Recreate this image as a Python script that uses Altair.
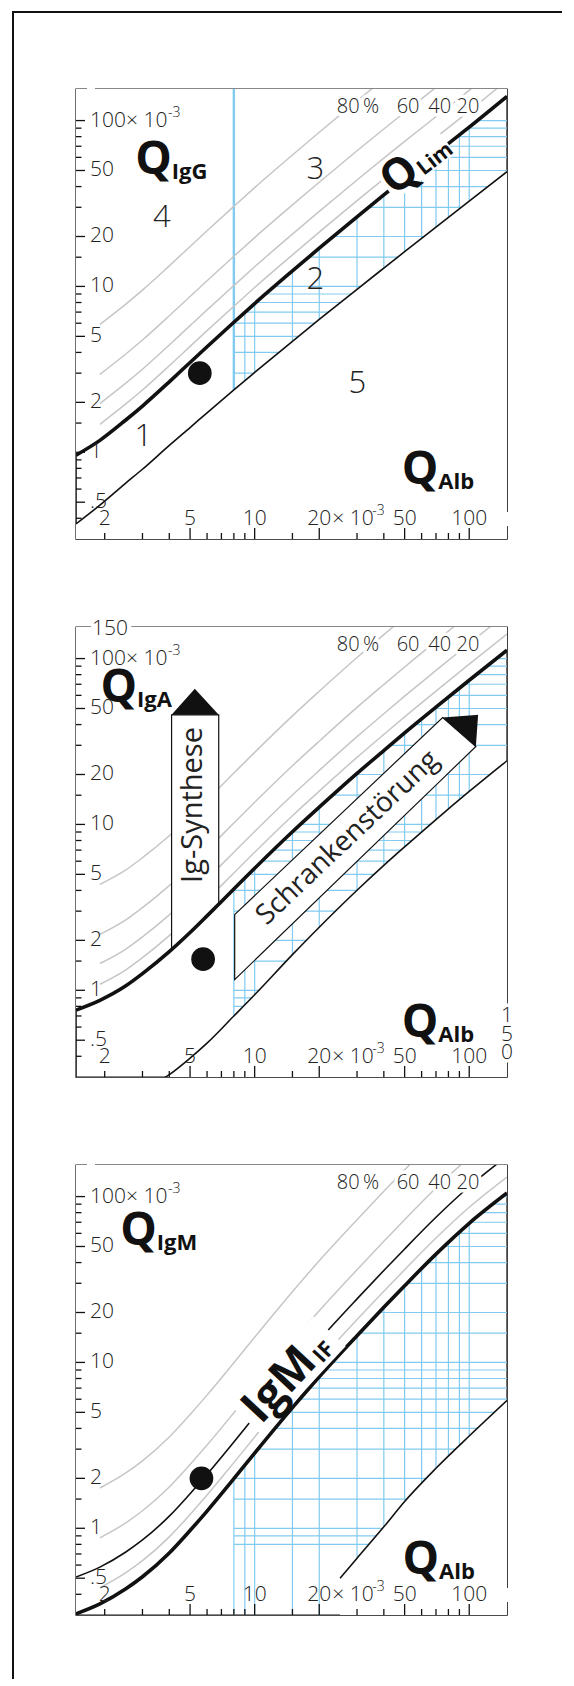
import altair as alt
import pandas as pd

# ---------------- values (all quotients in units of 10^-3) ----------------
CURVE_X = [1.47, 1.9, 2.5, 3, 4, 5, 6, 8, 10, 15, 20, 30, 40, 50, 70, 100, 150]

IGG_LIM = [0.96, 1.18, 1.56, 1.90, 2.66, 3.48, 4.33, 6.08, 7.88, 12.4, 17.0, 26.3, 35.6, 44.9, 63.4, 91.3, 140.0]
IGG_LOW = [0.37, 0.48, 0.65, 0.79, 1.10, 1.41, 1.73, 2.38, 3.03, 4.67, 6.32, 9.61, 12.9, 16.2, 22.8, 32.7, 49.2]

IGA_LIM = [0.76, 0.87, 1.06, 1.26, 1.71, 2.23, 2.81, 4.08, 5.44, 9.03, 12.7, 20.3, 27.9, 35.6, 50.9, 74.0, 112.5]
IGA_LOW_X = [3, 4, 5, 6, 8, 10, 15, 20, 30, 40, 50, 70, 100, 150]
IGA_LOW = [0.25, 0.31, 0.39, 0.48, 0.70, 0.94, 1.64, 2.40, 4.01, 5.66, 7.32, 10.7, 15.8, 24.2]

IGM_LIM = [0.305, 0.35, 0.43, 0.51, 0.71, 0.97, 1.27, 1.99, 2.84, 5.34, 8.2, 14.5, 21.5, 29.0, 45.0, 69.0, 105.0]
IGM_LOW_X = [25, 30, 40, 50, 70, 100, 150]
IGM_LOW = [0.50, 0.66, 1.02, 1.45, 2.3, 3.6, 5.9]

IF_PERCENT = [20, 40, 60, 80]           # intrathecal fraction lines (Q_Lim / (1 - IF))
IF_LABEL_TXT = ["20", "40", "60", "80\u2009%"]
IF_LABEL_X = [98.6, 72.8, 51.9, 30.3]
IF_LABEL_Y = 120

REF_QALB = 8                            # reference limit of Q_Alb
GRID_X = [8, 9, 10, 15, 20, 30, 40, 50, 60, 70, 80, 90, 100]
GRID_Y = [0.8, 0.9, 1, 1.5, 2, 3, 4, 5, 6, 7, 8, 9, 10, 15, 20, 30, 40, 50, 60, 70, 80, 90, 100]

X_TICKS = [2, 3, 4, 5, 6, 7, 8, 9, 10, 15, 20, 30, 40, 50, 60, 70, 80, 90, 100]
X_MAJOR = [5, 10, 20, 50, 100]
X_LABEL_AT = [2, 5, 10, 20, 50, 100]
X_LABEL_TXT = ["2", "5", "10", "20", "50", "100"]
Y_TICKS = [0.4, 0.5, 0.6, 0.7, 0.8, 0.9, 1, 1.5, 2, 3, 4, 5, 6, 7, 8, 9, 10, 15, 20, 30, 40, 50, 60, 70, 80, 90, 100]
Y_LABEL_AT = [0.5, 1, 2, 5, 10, 20, 50, 100]
Y_LABEL_TXT = [".5", "1", "2", "5", "10", "20", "50", "100\u00d7 10"]

DOT_X = [5.55, 5.75, 5.65]
DOT_Y = [3.0, 1.54, 2.0]

# panel 1 annotations
P1_REGION_TXT = ["1", "2", "3", "4", "5"]
P1_REGION_X = [3.03, 19.2, 19.2, 3.69, 30.1]
P1_REGION_Y = [1.23, 10.9, 50.0, 25.8, 2.57]
P1_QLIM_LABEL = (56.1, 55.1)
# panel 2 annotations
IGS_BOX_X = [4.1, 4.5, 5.0, 5.5, 6.0, 6.8]
IGS_BOX_BOTTOM = [1.76, 1.96, 2.23, 2.52, 2.81, 3.31]
IGS_BOX_TOP = 45.8
IGS_HEAD_X = [4.1, 5.26, 6.8]
IGS_HEAD_Y = [45.8, 65.7, 45.8]
IGS_LABEL = (5.17, 13.1)
SCH_BAND_X = [8.07, 75.2, 107.4]
SCH_BAND_UPPER = [2.86, 44.1, 29.5]
SCH_BAND_LOWER = [1.16, 18.9, 29.5]
SCH_HEAD_X = [75.2, 107.4, 110.0]
SCH_HEAD_UPPER = [44.1, 45.7, 45.8]
SCH_HEAD_LOWER = [44.1, 29.5, 45.8]
SCH_LABEL = (27.2, 8.27)
P2_RIGHT150_Y = [0.697, 0.541, 0.419]
# panel 3 annotations
P3_IGMIF_LABEL = (14.3, 8.3)

Q_NAME_SUB = ["IgG", "IgA", "IgM"]
Q_NAME_AT = [(4.11, 44.7), (2.83, 51.4), (3.50, 47.9)]
Q_ALB_AT = [(71.8, 0.60), (71.8, 0.49), (72.4, 0.495)]

# ---------------- styling ----------------
W, H = 431, 450
XMIN, XMAX = 1.47, 150
YMIN, YMAX = 0.3, 155
XS = alt.Scale(type="log", domain=[XMIN, XMAX])
YS = alt.Scale(type="log", domain=[YMIN, YMAX])
BLUE = "#80cbef"
GREY = "#c6c6c6"
INK = "#111111"
LABEL = "#222222"
FONT = "Open Sans"
TICK_FS = 21


def X(f="x"):
    return alt.X(f"{f}:Q", scale=XS, axis=None)


def Y(f="y"):
    return alt.Y(f"{f}:Q", scale=YS, axis=None)


def txt(t, x=None, y=None, px=None, py=None, size=19, weight=400, angle=0, align="center",
        baseline="middle", dx=0, dy=0, halo=0, color=LABEL):
    d = pd.DataFrame({"x": [x if x is not None else 1.0], "y": [y if y is not None else 1.0], "t": [t]})
    kw = dict(font=FONT, fontSize=size, fontWeight=weight, align=align, baseline=baseline, dx=dx, dy=dy)
    if angle:
        kw["angle"] = angle
    if halo:
        m = alt.Chart(d).mark_text(color="white", stroke="white", strokeWidth=halo, strokeJoin="round", **kw)
    else:
        m = alt.Chart(d).mark_text(color=color, **kw)
    enc = {"text": alt.Text("t:N")}
    enc["x"] = X() if px is None else alt.value(px)
    enc["y"] = Y() if py is None else alt.value(py)
    return m.encode(**enc)


def curve(xs, ys, color, width):
    d = pd.DataFrame({"x": xs, "y": ys})
    return alt.Chart(d).mark_line(color=color, strokeWidth=width, interpolate="monotone", clip=True).encode(
        x=X(), y=Y())


def if_lines(lim, levels, xmin, color, width):
    rows = []
    for p in levels:
        for x, v in zip(CURVE_X, lim):
            if x >= xmin:
                rows.append({"x": x, "y": v / (1 - p / 100.0), "p": p})
    d = pd.DataFrame(rows)
    return alt.Chart(d).mark_line(color=color, strokeWidth=width, interpolate="monotone", clip=True).encode(
        x=X(), y=Y(), detail="p:N")


def hatch_and_masks(lim, low_x, low):
    gv = pd.DataFrame({"x": GRID_X, "y0": YMIN, "y1": YMAX})
    gh = pd.DataFrame({"y": GRID_Y, "x0": REF_QALB, "x1": XMAX})
    up = pd.DataFrame({"x": CURVE_X, "y": lim, "top": YMAX})
    dn = pd.DataFrame({"x": low_x, "y": low, "bot": YMIN})
    return [
        alt.Chart(gv).mark_rule(color=BLUE, strokeWidth=1.2, clip=True).encode(x=X(), y=Y("y0"), y2=alt.Y2("y1")),
        alt.Chart(gh).mark_rule(color=BLUE, strokeWidth=1.2, clip=True).encode(y=Y(), x=X("x0"), x2=alt.X2("x1")),
        alt.Chart(up).mark_area(color="white", opacity=1, interpolate="monotone", clip=True).encode(
            x=X(), y=Y(), y2=alt.Y2("top")),
        alt.Chart(dn).mark_area(color="white", opacity=1, interpolate="monotone", clip=True).encode(
            x=X(), y=Y(), y2=alt.Y2("bot")),
    ]


def label_box(center, w, h, angle):
    hh = round(h / w, 4)
    path = f"M-1,{-hh}L1,{-hh}L1,{hh}L-1,{hh}Z"
    d = pd.DataFrame({"x": [center[0]], "y": [center[1]]})
    return alt.Chart(d).mark_point(shape=path, size=w * w, filled=True, color="white", opacity=1,
                                   angle=angle).encode(x=X(), y=Y())


def border_gaps(right=True):
    # small breaks in the panel border (top-left corner, right edge at label row)
    one = pd.DataFrame({"a": [0]})
    L = [alt.Chart(one).mark_rule(color="white", strokeWidth=3).encode(
        y=alt.value(0), x=alt.value(11), x2=alt.value(19))]
    if right:
        L.append(alt.Chart(one).mark_rule(color="white", strokeWidth=3).encode(
            x=alt.value(W), y=alt.value(423), y2=alt.value(437)))
    return L


def if_labels():
    L = []
    for t, x in zip(IF_LABEL_TXT, IF_LABEL_X):
        L.append(txt(t, x=x, y=IF_LABEL_Y, size=20, weight=300, halo=7))
    for t, x in zip(IF_LABEL_TXT, IF_LABEL_X):
        L.append(txt(t, x=x, y=IF_LABEL_Y, size=20, weight=300))
    return L


def q_labels(i):
    sx, sy = Q_NAME_AT[i]
    ax, ay = Q_ALB_AT[i]
    return [
        txt("Q", x=sx, y=sy, size=46, weight="bold", align="right", baseline="alphabetic", dx=0, dy=-5, color=INK),
        txt(Q_NAME_SUB[i], x=sx, y=sy, size=22, weight="bold", align="left", baseline="alphabetic", color=INK),
        txt("Q", x=ax, y=ay, size=46, weight="bold", align="right", baseline="alphabetic", dx=0, dy=-5, color=INK),
        txt("Alb", x=ax, y=ay, size=22, weight="bold", align="left", baseline="alphabetic", color=INK),
    ]


def dot(i):
    d = pd.DataFrame({"x": [DOT_X[i]], "y": [DOT_Y[i]]})
    return alt.Chart(d).mark_circle(size=560, color=INK, opacity=1).encode(x=X(), y=Y())


def axis_layers():
    xt = pd.DataFrame({"x": X_TICKS})
    yt = pd.DataFrame({"y": Y_TICKS})
    xmaj, xmin_ = xt[xt.x.isin(X_MAJOR)], xt[~xt.x.isin(X_MAJOR)]
    ymaj, ymin_ = yt[yt.y.isin(Y_LABEL_AT)], yt[~yt.y.isin(Y_LABEL_AT)]
    rule = dict(color=INK, strokeWidth=1.3)
    L = [
        alt.Chart(xmaj).mark_rule(**rule).encode(x=X(), y=alt.value(H), y2=alt.value(H - 11)),
        alt.Chart(xmin_).mark_rule(**rule).encode(x=X(), y=alt.value(H), y2=alt.value(H - 6)),
        alt.Chart(ymaj).mark_rule(**rule).encode(y=Y(), x=alt.value(0), x2=alt.value(9)),
        alt.Chart(ymin_).mark_rule(**rule).encode(y=Y(), x=alt.value(0), x2=alt.value(5.5)),
    ]
    xl = pd.DataFrame({"x": X_LABEL_AT, "t": X_LABEL_TXT})
    yl = pd.DataFrame({"y": Y_LABEL_AT, "t": Y_LABEL_TXT})
    L.append(alt.Chart(xl).mark_text(font=FONT, fontSize=TICK_FS, fontWeight=300, color=LABEL, align="center",
                                     baseline="middle").encode(x=X(), y=alt.value(H - 20), text="t:N"))
    L.append(alt.Chart(yl).mark_text(font=FONT, fontSize=TICK_FS, fontWeight=300, color=LABEL, align="left",
                                     baseline="middle").encode(y=Y(), x=alt.value(14), text="t:N"))
    L.append(txt("\u00d7 10", x=20, py=H - 20, size=TICK_FS, weight=300, align="left", dx=13))
    L.append(txt("-3", x=20, py=H - 20, size=14, weight=300, align="left", dx=53, dy=-8))
    L.append(txt("-3", px=92, y=100, size=14, weight=300, align="left", dy=-8))
    return L


# ---------------- panel 1 : IgG ----------------
p1 = hatch_and_masks(IGG_LIM, CURVE_X, IGG_LOW)
p1.append(alt.Chart(pd.DataFrame({"x": [REF_QALB], "y0": [IGG_LOW[CURVE_X.index(8)]], "y1": [YMAX]}))
          .mark_rule(color=BLUE, strokeWidth=2.4, clip=True).encode(x=X(), y=Y("y0"), y2=alt.Y2("y1")))
p1.append(if_lines(IGG_LIM, IF_PERCENT, 1.9, GREY, 1.5))
p1.append(curve(CURVE_X, IGG_LIM, INK, 3.6))
p1.append(curve(CURVE_X, IGG_LOW, INK, 1.6))
p1.append(label_box(P1_QLIM_LABEL, 76, 34, 322))
p1 += border_gaps()
p1 += if_labels()
for t, x, y in zip(P1_REGION_TXT, P1_REGION_X, P1_REGION_Y):
    p1.append(txt(t, x=x, y=y, size=31, weight=300))
p1.append(txt("Q", x=P1_QLIM_LABEL[0], y=P1_QLIM_LABEL[1], size=44, weight="bold", angle=322, align="right",
              dx=-2, color=INK))
p1.append(txt("Lim", x=P1_QLIM_LABEL[0], y=P1_QLIM_LABEL[1], size=21, weight="bold", angle=322, align="left",
              dx=-1, dy=9, color=INK))
p1 += q_labels(0)
p1.append(dot(0))
p1 += axis_layers()
# outer frame of the figure (left and top edges)
p1.append(alt.Chart(pd.DataFrame({"a": [0]})).mark_rule(color=INK, strokeWidth=2).encode(
    x=alt.value(-63), y=alt.value(-78), y2=alt.value(1590)))
p1.append(alt.Chart(pd.DataFrame({"a": [0]})).mark_rule(color=INK, strokeWidth=2).encode(
    y=alt.value(-77), x=alt.value(-64), x2=alt.value(486)))
panel1 = alt.layer(*p1).properties(width=W, height=H)

# ---------------- panel 2 : IgA ----------------
p2 = hatch_and_masks(IGA_LIM, IGA_LOW_X, IGA_LOW)
p2.append(if_lines(IGA_LIM, IF_PERCENT, 1.9, GREY, 1.5))
box = pd.DataFrame({"x": IGS_BOX_X, "y": IGS_BOX_BOTTOM, "y2": IGS_BOX_TOP})
p2.append(alt.Chart(box).mark_area(fill="white", stroke=INK, strokeWidth=1.2, opacity=1).encode(
    x=X(), y=Y(), y2=alt.Y2("y2")))
head = pd.DataFrame({"x": IGS_HEAD_X, "y": IGS_HEAD_Y, "y2": IGS_BOX_TOP})
p2.append(alt.Chart(head).mark_area(color=INK, opacity=1).encode(x=X(), y=Y(), y2=alt.Y2("y2")))
band = pd.DataFrame({"x": SCH_BAND_X, "y": SCH_BAND_UPPER, "y2": SCH_BAND_LOWER})
p2.append(alt.Chart(band).mark_area(fill="white", stroke=INK, strokeWidth=1.2, opacity=1).encode(
    x=X(), y=Y(), y2=alt.Y2("y2")))
shead = pd.DataFrame({"x": SCH_HEAD_X, "y": SCH_HEAD_UPPER, "y2": SCH_HEAD_LOWER})
p2.append(alt.Chart(shead).mark_area(color=INK, opacity=1).encode(x=X(), y=Y(), y2=alt.Y2("y2")))
p2.append(curve(CURVE_X, IGA_LIM, INK, 3.6))
p2.append(curve(IGA_LOW_X, IGA_LOW, INK, 1.6))
p2 += if_labels()
p2.append(txt("Ig-Synthese", x=IGS_LABEL[0], y=IGS_LABEL[1], size=29, angle=270))
p2.append(txt("Schrankenst\u00f6rung", x=SCH_LABEL[0], y=SCH_LABEL[1], size=28, angle=316.6))
p2 += q_labels(1)
p2.append(dot(1))
p2 += axis_layers()
p2.append(txt("150", px=16, y=YMAX, size=TICK_FS, weight=300, align="left", dy=2, halo=9))
p2.append(txt("150", px=16, y=YMAX, size=TICK_FS, weight=300, align="left", dy=2))
for ch, y in zip("150", P2_RIGHT150_Y):
    p2.append(txt(ch, x=XMAX, y=y, size=TICK_FS, weight=300, halo=7))
for ch, y in zip("150", P2_RIGHT150_Y):
    p2.append(txt(ch, x=XMAX, y=y, size=TICK_FS, weight=300))
panel2 = alt.layer(*p2).properties(width=W, height=H)

# ---------------- panel 3 : IgM ----------------
p3 = hatch_and_masks(IGM_LIM, IGM_LOW_X, IGM_LOW)
p3.append(if_lines(IGM_LIM, [20, 60, 80], 1.9, GREY, 1.5))
p3.append(if_lines(IGM_LIM, [40], XMIN, INK, 1.6))
p3.append(curve(CURVE_X, IGM_LIM, INK, 3.6))
p3.append(curve(IGM_LOW_X, IGM_LOW, INK, 1.6))
p3.append(label_box(P3_IGMIF_LABEL, 122, 44, 313))
p3 += border_gaps()
p3 += if_labels()
p3.append(txt("IgM", x=P3_IGMIF_LABEL[0], y=P3_IGMIF_LABEL[1], size=46, weight="bold", angle=313,
              align="right", dx=30, color=INK))
p3.append(txt("IF", x=P3_IGMIF_LABEL[0], y=P3_IGMIF_LABEL[1], size=22, weight="bold", angle=313,
              align="left", dx=32, dy=10, color=INK))
p3 += q_labels(2)
p3.append(dot(2))
p3 += axis_layers()
panel3 = alt.layer(*p3).properties(width=W, height=H)

chart = alt.vconcat(panel1, panel2, panel3, spacing=88, bounds="flush").properties(
    padding={"left": 10, "top": 9, "right": 0, "bottom": 0},
    background="white",
).configure_view(stroke=INK, strokeWidth=1.4)

chart.save("out.html", embed_options={"renderer": "svg", "actions": False})
